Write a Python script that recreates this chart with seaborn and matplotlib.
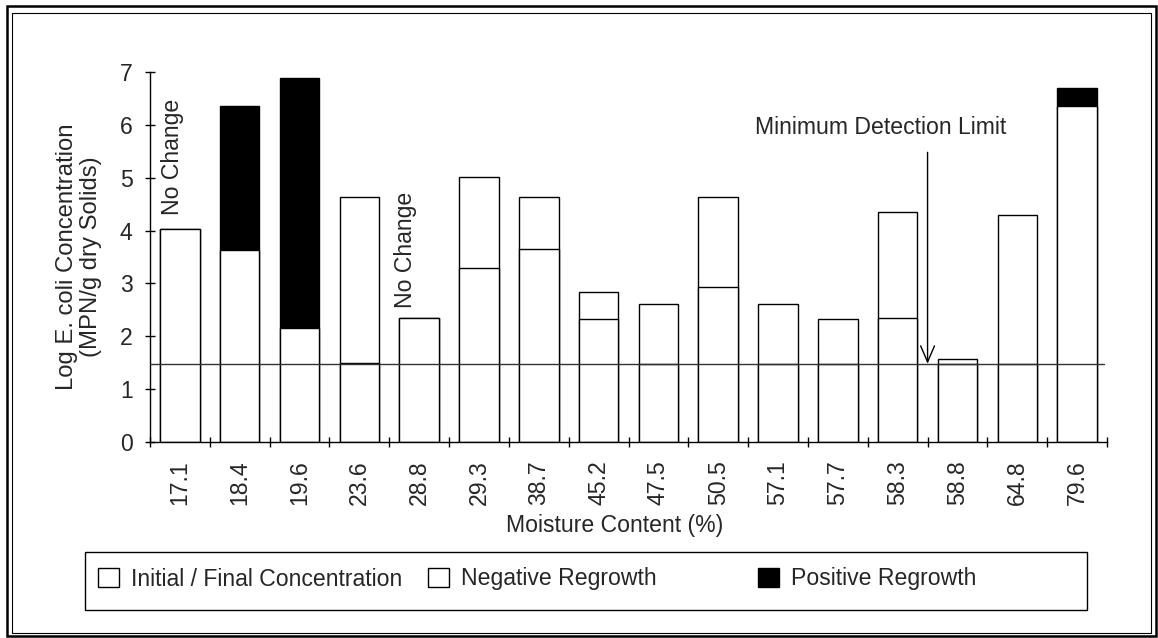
import matplotlib
matplotlib.use("Agg")
import matplotlib.pyplot as plt
import seaborn as sns
import pandas as pd
from matplotlib.patches import Rectangle, Patch

# ---------------- data ----------------
moisture = ["17.1", "18.4", "19.6", "23.6", "28.8", "29.3", "38.7", "45.2",
            "47.5", "50.5", "57.1", "57.7", "58.3", "58.8", "64.8", "79.6"]
final_conc = [4.03, 3.63, 2.15, 1.50, 2.34, 3.30, 3.65, 2.32,
              1.47, 2.94, 1.47, 1.47, 2.34, 1.47, 1.47, 6.36]
peak_conc = [4.03, 6.35, 6.88, 4.64, 2.34, 5.02, 4.64, 2.84,
             2.61, 4.64, 2.61, 2.32, 4.35, 1.57, 4.29, 6.70]
regrowth = ["None", "Positive", "Positive", "Negative", "None", "Negative",
            "Negative", "Negative", "Negative", "Negative", "Negative",
            "Negative", "Negative", "Negative", "Negative", "Positive"]
detection_limit = 1.48
legend_labels = ["Initial / Final Concentration", "Negative Regrowth", "Positive Regrowth"]

df = pd.DataFrame({"Moisture": moisture, "Final": final_conc,
                   "Peak": peak_conc, "Type": regrowth})

# ---------------- style ----------------
sns.set_theme(style="white")
plt.rcParams["font.family"] = ["Liberation Sans", "DejaVu Sans"]
FS = 16.6
plt.rcParams["font.size"] = FS

W, H = 1158, 638
fig = plt.figure(figsize=(W / 100, H / 100), dpi=100)
fig.patch.set_facecolor("white")
ax = fig.add_axes([150 / W, 1 - 442 / H, 957 / W, 370 / H])
ax.set_facecolor("white")

pal = {"Positive": "black", "Negative": "white", "None": "white"}
sns.barplot(data=df, x="Moisture", y="Peak", hue="Type", palette=pal,
            order=moisture, dodge=False, width=0.66, edgecolor="black",
            linewidth=1.0, saturation=1, errorbar=None, legend=False, ax=ax)
sns.barplot(data=df, x="Moisture", y="Final", color="white", order=moisture,
            width=0.66, edgecolor="black", linewidth=1.0, saturation=1,
            errorbar=None, ax=ax)

ax.set_xlim(-0.5, len(moisture) - 0.5)
ax.set_ylim(0, 7)

# detection limit line
ax.plot([-0.5, len(moisture) - 0.55], [detection_limit, detection_limit],
        color="#333333", lw=1.0, zorder=6)

# spines & ticks
for s in ["top", "right"]:
    ax.spines[s].set_visible(False)
for s in ["left", "bottom"]:
    ax.spines[s].set_color("black")
    ax.spines[s].set_linewidth(1.0)

ax.set_yticks(range(0, 8))
ax.tick_params(axis="y", direction="inout", length=7, width=1, color="black",
               labelsize=FS, pad=9, left=True)
ax.set_xticks(range(len(moisture)))
ax.set_xticklabels(moisture, rotation=90)
ax.tick_params(axis="x", which="major", length=0, labelsize=FS, pad=13)
ax.set_xticks([i - 0.5 for i in range(len(moisture) + 1)], minor=True)
ax.tick_params(axis="x", which="minor", direction="inout", length=7, width=1,
               color="black", bottom=True)

ax.set_xlabel("Moisture Content (%)", fontsize=FS)
ax.xaxis.set_label_coords(0.486, -0.195)
ax.set_ylabel("Log E. coli Concentration\n(MPN/g dry Solids)", fontsize=17.2,
              linespacing=1.1)
ax.yaxis.set_label_coords(-0.05, 0.5)

# annotations
ax.text(-0.12, 4.3, "No Change", rotation=90, ha="center", va="bottom", fontsize=FS)
ax.text(3.78, 2.53, "No Change", rotation=90, ha="center", va="bottom", fontsize=FS)
ax.text(11.72, 5.95, "Minimum Detection Limit", ha="center", va="center", fontsize=FS)
ax.annotate("", xy=(12.5, detection_limit), xytext=(12.5, 5.48),
            arrowprops=dict(arrowstyle="->,head_length=0.7,head_width=0.3",
                            color="black", lw=1.0, shrinkA=0, shrinkB=0),
            zorder=7)

# legend (three entries at fixed slots inside one frame)
handles = [Patch(facecolor="white", edgecolor="black", linewidth=1),
           Patch(facecolor="white", edgecolor="black", linewidth=1),
           Patch(facecolor="black", edgecolor="black", linewidth=1)]
slots = [98, 428, 758]
for h, lab, xp in zip(handles, legend_labels, slots):
    fig.legend(handles=[h], labels=[lab], loc="center left",
               bbox_to_anchor=(xp / W, 1 - 579 / H), frameon=False,
               borderpad=0, borderaxespad=0, handlelength=0.92,
               handleheight=0.92, handletextpad=0.5, fontsize=FS)
fig.patches.append(Rectangle((85 / W, 1 - 610 / H), (1087 - 85) / W, 58 / H,
                             transform=fig.transFigure, fill=False,
                             edgecolor="black", linewidth=1.0))

# page frame (double line)
fig.patches.append(Rectangle((7 / W, 2 / H), (1156 - 7) / W, (636 - 6) / H,
                             transform=fig.transFigure, fill=False,
                             edgecolor="black", linewidth=1.8))
fig.patches.append(Rectangle((12 / W, 5 / H), (1151 - 12) / W, (631 - 11) / H,
                             transform=fig.transFigure, fill=False,
                             edgecolor="black", linewidth=0.8))

fig.savefig("out.png", dpi=100, facecolor="white")
